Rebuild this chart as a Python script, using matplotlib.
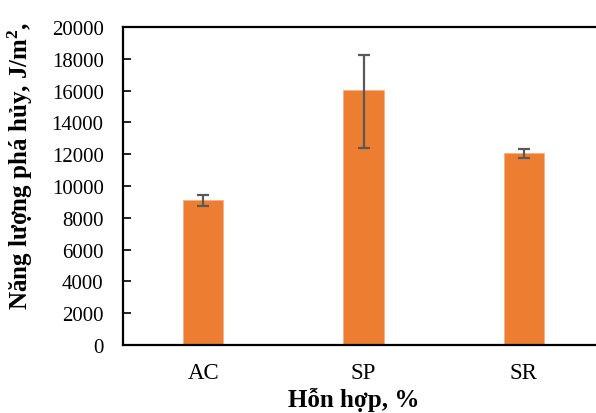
import matplotlib
matplotlib.use('Agg')
import matplotlib.pyplot as plt

# --- Data ---
categories = ['AC', 'SP', 'SR']
values = [9150, 16060, 12070]
err_lower = [430, 3690, 330]
err_upper = [290, 2160, 260]
y_ticks = [0, 2000, 4000, 6000, 8000, 10000, 12000, 14000, 16000, 18000, 20000]

plt.rcParams['font.family'] = ['Liberation Serif', 'DejaVu Serif']
plt.rcParams['mathtext.fontset'] = 'custom'
plt.rcParams['mathtext.bf'] = 'Liberation Serif:bold'
plt.rcParams['mathtext.rm'] = 'Liberation Serif'

fig = plt.figure(figsize=(5.96, 4.14), dpi=100)
ax = fig.add_axes([123 / 596, 1 - 346 / 414, 481 / 596, 318 / 414])

x = range(len(categories))
ax.bar(x, values, width=0.25, color='#ED7D31', edgecolor='#F4B183', linewidth=0.6,
       yerr=[err_lower, err_upper], ecolor='#595959',
       error_kw=dict(elinewidth=1.6, capsize=4.5, capthick=1.6))

ax.set_xlim(-0.5, 2.5)
ax.set_ylim(0, 20000)
ax.set_yticks(y_ticks)
ax.set_yticklabels([str(t) for t in y_ticks])
ax.set_xticks(list(x))
ax.set_xticklabels(categories)

ax.tick_params(axis='y', direction='in', length=6, width=1.2, pad=14, labelsize=15)
ax.tick_params(axis='x', length=0, pad=12, labelsize=16.5)

for s in ax.spines.values():
    s.set_linewidth(1.6)
    s.set_color('black')

ax.set_ylabel(r'Năng lượng phá hủy, J/m$\mathbf{^2}$,', fontsize=18, fontweight='bold')
ax.yaxis.set_label_coords(-0.183, 0.566)
ax.set_xlabel('Hỗn hợp, %', fontsize=18, fontweight='bold')
ax.xaxis.set_label_coords(0.48, -0.132)

fig.savefig('out.png', dpi=100)
